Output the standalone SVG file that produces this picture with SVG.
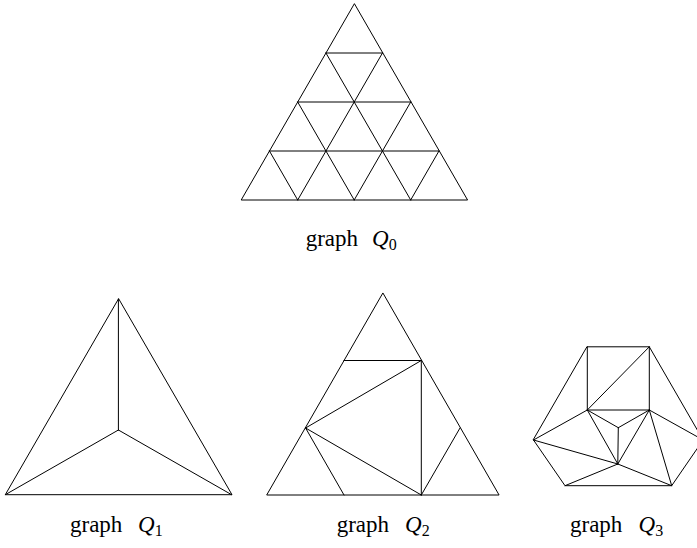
<svg xmlns="http://www.w3.org/2000/svg" width="697" height="548" viewBox="0 0 697 548">
<style>
.e{stroke:#000;stroke-width:1;fill:none;stroke-linecap:round;stroke-linejoin:round}
.lbl{font-family:"Liberation Serif","Times New Roman",serif;font-size:23px;fill:#000}
.q{font-style:italic}
.s{font-size:16px}
</style>
<rect width="697" height="548" fill="#fff"/>
<g id="graphQ0" class="e">
<polygon points="354.2,4 241.2,200 467.2,200"/>
<line x1="325.95" y1="53" x2="382.45" y2="53"/>
<line x1="297.7" y1="102" x2="410.7" y2="102"/>
<line x1="269.45" y1="151" x2="438.95" y2="151"/>
<line x1="297.7" y1="200" x2="382.45" y2="53"/>
<line x1="354.2" y1="200" x2="410.7" y2="102"/>
<line x1="410.7" y1="200" x2="438.95" y2="151"/>
<line x1="410.7" y1="200" x2="325.95" y2="53"/>
<line x1="354.2" y1="200" x2="297.7" y2="102"/>
<line x1="297.7" y1="200" x2="269.45" y2="151"/>
</g>
<g id="graphQ1" class="e">
<polygon points="118.4,299 5.3,494.7 231.6,494.7"/>
<line x1="118.4" y1="299" x2="118.4" y2="430"/>
<line x1="118.4" y1="430" x2="5.3" y2="494.7"/>
<line x1="118.4" y1="430" x2="231.6" y2="494.7"/>
</g>
<g id="graphQ2" class="e">
<polygon points="382.7,293.3 266.7,495 498.7,495"/>
<line x1="344" y1="360.5" x2="421.3" y2="360.5"/>
<line x1="421.3" y1="360.5" x2="421.3" y2="495"/>
<line x1="305.6" y1="428" x2="421.3" y2="360.5"/>
<line x1="305.6" y1="428" x2="421.3" y2="495"/>
<line x1="305.6" y1="428" x2="344" y2="495"/>
<line x1="460" y1="428" x2="421.3" y2="495"/>
</g>
<g id="graphQ3" class="e">
<polygon points="587.3,346.8 649.3,346.8 703.1,440 671.7,485.7 565,485.7 533.5,440"/>
<line x1="587.3" y1="346.8" x2="587.3" y2="410"/>
<line x1="649.3" y1="346.8" x2="649.3" y2="410"/>
<line x1="587.3" y1="410" x2="649.3" y2="410"/>
<line x1="587.3" y1="410" x2="649.3" y2="346.8"/>
<line x1="533.5" y1="440" x2="587.3" y2="410"/>
<line x1="533.5" y1="440" x2="617.8" y2="464"/>
<line x1="703.1" y1="440" x2="649.3" y2="410"/>
<line x1="565" y1="485.7" x2="617.8" y2="464"/>
<line x1="671.7" y1="485.7" x2="617.8" y2="464"/>
<line x1="587.3" y1="410" x2="618.3" y2="427.7"/>
<line x1="649.3" y1="410" x2="618.3" y2="427.7"/>
<line x1="618.3" y1="427.7" x2="617.8" y2="464"/>
<line x1="587.3" y1="410" x2="617.8" y2="464"/>
<line x1="649.3" y1="410" x2="617.8" y2="464"/>
<line x1="649.3" y1="410" x2="671.7" y2="485.7"/>
</g>
<g id="labels" class="lbl">
<text x="305.7" y="246">graph<tspan x="372" class="q">Q</tspan><tspan class="s" dy="3.5">0</tspan></text>
<text x="70" y="532">graph<tspan x="138" class="q">Q</tspan><tspan class="s" dy="3.5">1</tspan></text>
<text x="336.7" y="532">graph<tspan x="405" class="q">Q</tspan><tspan class="s" dy="3.5">2</tspan></text>
<text x="570" y="532">graph<tspan x="638.5" class="q">Q</tspan><tspan class="s" dy="3.5">3</tspan></text>
</g>
</svg>
